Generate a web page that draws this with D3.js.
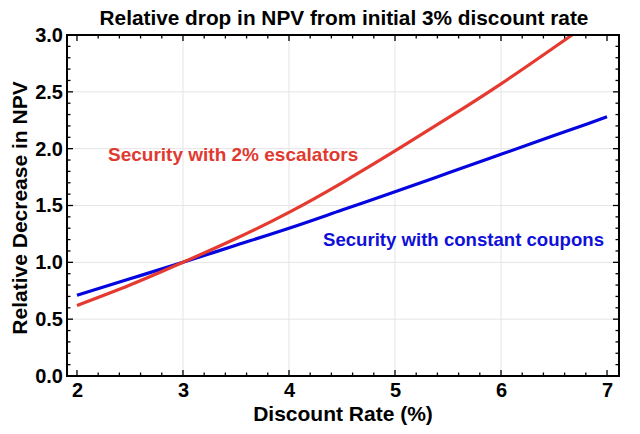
<!DOCTYPE html>
<html><head><meta charset="utf-8">
<script src="https://cdn.jsdelivr.net/npm/d3@7"></script>
<style>body{margin:0;background:#fff}svg{display:block;font-family:"Liberation Sans",Arial,sans-serif}</style>
</head><body><svg id="c" width="640" height="434"></svg>
<script>
const rates = [2, 2.5, 3, 3.5, 4, 4.5, 5, 5.5, 6, 6.5, 7];
const constantCoupons = [0.71, 0.855, 1.0, 1.15, 1.30, 1.46, 1.62, 1.785, 1.95, 2.115, 2.28];
const escalatorRates = [2, 2.5, 3, 3.5, 4, 4.5, 5, 5.5, 6, 6.5, 6.67];
const escalators = [0.62, 0.80, 1.0, 1.21, 1.44, 1.70, 1.98, 2.27, 2.57, 2.89, 3.0];
const xTicks = [2, 3, 4, 5, 6, 7];
const yTicks = [0.0, 0.5, 1.0, 1.5, 2.0, 2.5, 3.0];

const svg = d3.select("#c");
const L = 67, R = 619, T = 35, B = 376;
const x = d3.scaleLinear().domain([1.906, 7.113]).range([L, R]);
const y = d3.scaleLinear().domain([0, 3]).range([B, T]);

// grid
svg.append("g").selectAll("line").data(xTicks.filter(v => v > 2 && v < 7)).join("line")
  .attr("x1", d => x(d)).attr("x2", d => x(d)).attr("y1", T).attr("y2", B)
  .attr("stroke", "#e4e4e4").attr("stroke-width", 1);
svg.append("g").selectAll("line").data(yTicks.filter(v => v > 0 && v < 3)).join("line")
  .attr("y1", d => y(d)).attr("y2", d => y(d)).attr("x1", L).attr("x2", R)
  .attr("stroke", "#e4e4e4").attr("stroke-width", 1);

// lines
svg.append("clipPath").attr("id", "pc").append("rect")
  .attr("x", L).attr("y", T).attr("width", R - L).attr("height", B - T);
const line = d3.line().x(d => x(d[0])).y(d => y(d[1])).curve(d3.curveNatural);
svg.append("path").datum(rates.map((r, i) => [r, constantCoupons[i]]))
  .attr("d", line).attr("fill", "none").attr("stroke", "#0505e0").attr("stroke-width", 3.2)
  .attr("clip-path", "url(#pc)");
svg.append("path").datum(escalatorRates.map((r, i) => [r, escalators[i]]))
  .attr("d", line).attr("fill", "none").attr("stroke", "#e53a30").attr("stroke-width", 3.2)
  .attr("clip-path", "url(#pc)");

// inward ticks on all four sides
const xMinor = d3.range(2, 7.01, 0.2);
const yMinor = d3.range(0, 3.001, 0.1);
function ticksX(g, yPos, dir) {
  g.selectAll(null).data(xMinor).join("line")
    .attr("x1", d => x(d)).attr("x2", d => x(d)).attr("y1", yPos)
    .attr("y2", d => yPos + dir * (xTicks.some(t => Math.abs(t - d) < 1e-6) ? 6 : 3.5))
    .attr("stroke", "#000").attr("stroke-width", 1.3);
}
function ticksY(g, xPos, dir) {
  g.selectAll(null).data(yMinor).join("line")
    .attr("y1", d => y(d)).attr("y2", d => y(d)).attr("x1", xPos)
    .attr("x2", d => xPos + dir * (yTicks.some(t => Math.abs(t - d) < 1e-6) ? 6 : 3.5))
    .attr("stroke", "#000").attr("stroke-width", 1.3);
}
const tg = svg.append("g");
ticksX(tg, B, -1); ticksX(tg, T, 1); ticksY(tg, L, 1); ticksY(tg, R, -1);

svg.append("rect").attr("x", L).attr("y", T).attr("width", R - L).attr("height", B - T)
  .attr("fill", "none").attr("stroke", "#000").attr("stroke-width", 2);

// tick labels via axes
const xa = svg.append("g").attr("transform", `translate(0,${B})`)
  .call(d3.axisBottom(x).tickValues(xTicks).tickSize(0).tickPadding(7).tickFormat(d3.format("d")));
xa.select(".domain").remove();
xa.selectAll("text").attr("font-size", 20).attr("font-weight", "bold").attr("fill", "#000")
  .attr("font-family", "Liberation Sans, Arial, sans-serif");
const ya = svg.append("g").attr("transform", `translate(${L},0)`)
  .call(d3.axisLeft(y).tickValues(yTicks).tickSize(0).tickPadding(4).tickFormat(d3.format(".1f")));
ya.select(".domain").remove();
ya.selectAll("text").attr("font-size", 20).attr("font-weight", "bold").attr("fill", "#000")
  .attr("font-family", "Liberation Sans, Arial, sans-serif");

// titles
svg.append("text").attr("x", 344).attr("y", 25).attr("text-anchor", "middle")
  .attr("font-size", 20.8).attr("font-weight", "bold").text("Relative drop in NPV from initial 3% discount rate");
svg.append("text").attr("x", 343).attr("y", 421).attr("text-anchor", "middle")
  .attr("font-size", 21).attr("font-weight", "bold").text("Discount Rate (%)");
svg.append("text").attr("transform", "translate(27,208) rotate(-90)").attr("text-anchor", "middle")
  .attr("font-size", 21).attr("font-weight", "bold").text("Relative Decrease in NPV");

// annotations
svg.append("text").attr("x", 108).attr("y", 161).attr("font-size", 19).attr("font-weight", "bold")
  .attr("fill", "#e03a30").text("Security with 2% escalators");
svg.append("text").attr("x", 323).attr("y", 246).attr("font-size", 18.6).attr("font-weight", "bold")
  .attr("fill", "#1010d8").text("Security with constant coupons");
</script></body></html>
